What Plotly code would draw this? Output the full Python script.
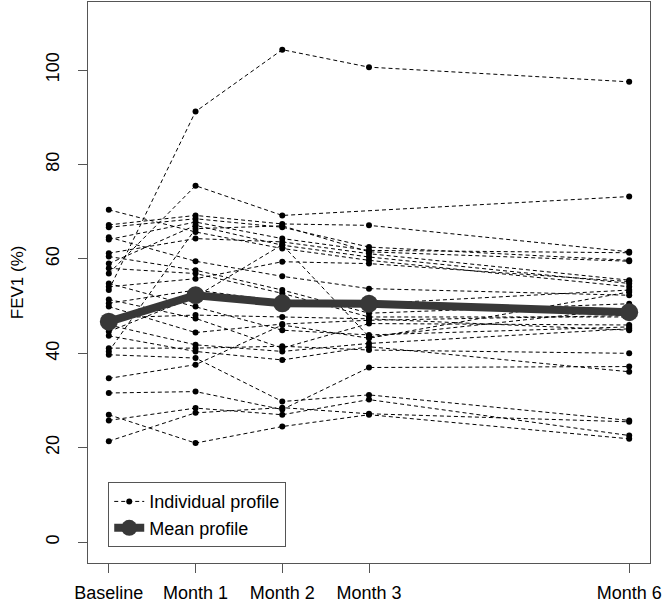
import plotly.graph_objects as go

# visit positions (months) and their tick labels
visit_months = [0, 1, 2, 3, 6]
visit_labels = ["Baseline", "Month 1", "Month 2", "Month 3", "Month 6"]

# FEV1 (%) per subject at each visit (None = missing)
baseline = [53.4, 56.9, 70.4, 67.2, 66.7, 64.6, 64.1, 61.2, 60.5, 59.0,
            58.0, 54.8, 54.1, 51.4, 50.6, 49.9, 47.5, 46.0, 40.4, 44.6,
            43.7, 41.1, 39.7, 34.7, 31.6, 27.0, 25.8, 21.4]
month1 = [91.2, 75.5, 65.7, 69.2, 68.5, 59.5, 67.8, 64.3, 57.6, 67.1,
          56.9, 49.9, 55.8, 47.4, 53.4, 44.4, 48.1, 41.8, 66.4, 52.0,
          40.4, 41.1, 39.0, 37.6, 31.9, 21.0, 28.4, 27.4]
month2 = [104.3, 69.2, 62.2, 67.4, 66.7, 56.3, 64.3, 63.6, 53.4, 62.9,
          52.7, 44.9, 59.4, 41.1, 51.0, 46.2, 47.7, 40.4, 67.0, 63.0,
          38.6, 41.5, 29.8, 46.0, 28.1, 24.5, 27.0, 28.5]
month3 = [100.6, None, 59.7, 67.1, 62.5, 53.7, 61.8, 61.1, 48.5, 60.4,
          47.7, 43.9, 59.0, 46.3, 50.5, 47.0, 47.3, 42.1, 61.5, 43.5,
          41.4, 40.7, 31.2, 43.2, 37.0, 27.0, 30.2, 27.2]
month6 = [97.5, 73.2, 54.1, 61.5, 59.7, 52.3, 61.3, 55.5, 50.5, 54.8,
          47.7, 45.6, 55.2, 46.0, 53.4, 48.0, 44.9, 45.2, 59.5, 49.5,
          36.1, 40.0, 25.8, 53.0, 37.2, 21.9, 22.6, 25.5]

# mean profile as drawn in the figure
mean_profile = [46.7, 52.3, 50.6, 50.5, 48.7]

FONT = "Liberation Sans, Arial, Helvetica, sans-serif"

fig = go.Figure()

for i, row in enumerate(zip(baseline, month1, month2, month3, month6)):
    fig.add_trace(
        go.Scatter(
            x=visit_months,
            y=list(row),
            mode="lines+markers",
            connectgaps=True,
            line=dict(color="black", width=1, dash="4px,3px"),
            marker=dict(color="black", size=6),
            name="Individual profile",
            legendgroup="ind",
            showlegend=(i == 0),
        )
    )

fig.add_trace(
    go.Scatter(
        x=visit_months,
        y=mean_profile,
        mode="lines+markers",
        line=dict(color="#383838", width=8),
        marker=dict(color="#383838", size=18),
        name="Mean profile",
    )
)

axis_common = dict(
    showgrid=False,
    zeroline=False,
    showline=True,
    linecolor="#555555",
    linewidth=1,
    mirror=True,
    ticks="outside",
    ticklen=9,
    tickcolor="#555555",
    automargin=False,
    tickfont=dict(family=FONT, size=18, color="black"),
)

fig.update_xaxes(
    range=[-0.24, 6.24],
    tickvals=visit_months,
    ticktext=visit_labels,
    ticklabelstandoff=4,
    **axis_common,
)
fig.update_yaxes(
    range=[-4.4, 114.4],
    tickvals=[0, 20, 40, 60, 80, 100],
    tickangle=-90,
    ticklabelstandoff=12,
    **axis_common,
)

fig.add_annotation(
    text="FEV1 (%)",
    xref="paper", yref="paper",
    x=-0.125, y=0.5,
    xanchor="center", yanchor="middle",
    textangle=-90,
    showarrow=False,
    font=dict(family=FONT, size=17, color="black"),
)

fig.update_layout(
    width=666,
    height=609,
    plot_bgcolor="white",
    paper_bgcolor="white",
    margin=dict(l=88, r=16, t=2, b=46),
    font=dict(family=FONT, size=18, color="black"),
    legend=dict(
        x=0.036,
        y=0.144,
        xanchor="left",
        yanchor="top",
        bordercolor="#555555",
        borderwidth=1,
        bgcolor="white",
        font=dict(family=FONT, size=18, color="black"),
        tracegroupgap=0,
    ),
    showlegend=True,
)

# drop the page's default body margin so the figure sits at the window origin
fig.write_html(
    "out.html",
    config={"displayModeBar": False},
    post_script="document.body.style.margin='0px';",
)
